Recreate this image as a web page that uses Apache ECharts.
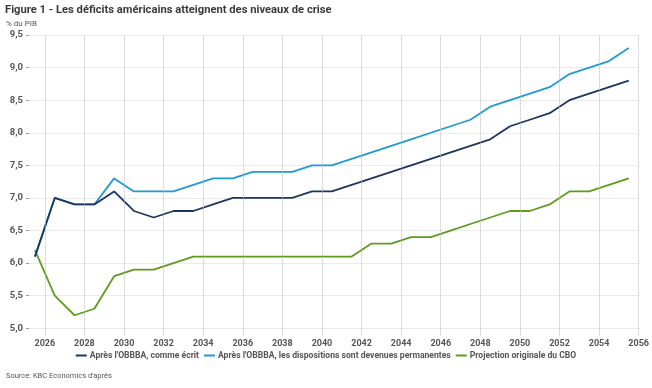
<!DOCTYPE html>
<html><head><meta charset="utf-8">
<script src="https://cdn.jsdelivr.net/npm/echarts@6/dist/echarts.min.js"></script>
<style>html,body{margin:0;padding:0;background:#fff}#c{width:652px;height:388px}</style>
</head><body><div id="c"></div>
<script>
const years = [2025.5,2026.5,2027.5,2028.5,2029.5,2030.5,2031.5,2032.5,2033.5,2034.5,2035.5,2036.5,2037.5,2038.5,2039.5,2040.5,2041.5,2042.5,2043.5,2044.5,2045.5,2046.5,2047.5,2048.5,2049.5,2050.5,2051.5,2052.5,2053.5,2054.5,2055.5];
const asWritten = [6.1,7.0,6.9,6.9,7.1,6.8,6.7,6.8,6.8,6.9,7.0,7.0,7.0,7.0,7.1,7.1,7.2,7.3,7.4,7.5,7.6,7.7,7.8,7.9,8.1,8.2,8.3,8.5,8.6,8.7,8.8];
const permanent = [6.1,7.0,6.9,6.9,7.3,7.1,7.1,7.1,7.2,7.3,7.3,7.4,7.4,7.4,7.5,7.5,7.6,7.7,7.8,7.9,8.0,8.1,8.2,8.4,8.5,8.6,8.7,8.9,9.0,9.1,9.3];
const cbo = [6.2,5.5,5.2,5.3,5.8,5.9,5.9,6.0,6.1,6.1,6.1,6.1,6.1,6.1,6.1,6.1,6.1,6.3,6.3,6.4,6.4,6.5,6.6,6.7,6.8,6.8,6.9,7.1,7.1,7.2,7.3];
const xTicks = [2026,2028,2030,2032,2034,2036,2038,2040,2042,2044,2046,2048,2050,2052,2054,2056];
const seriesNames = ["Après l'OBBBA, comme écrit","Après l'OBBBA, les dispositions sont devenues permanentes","Projection originale du CBO"];
const colors = ['#1c3660','#2199d3','#5e9c1e'];

const font = "Roboto,'Open Sans',sans-serif";
const chart = echarts.init(document.getElementById('c'), null, {renderer:'canvas'});
const pair = arr => years.map((y,i)=>[y,arr[i]]);
chart.setOption({
  animation:false,
  textStyle:{fontFamily:font},
  title:[
    {text:'Figure 1 - Les déficits américains atteignent des niveaux de crise',left:5,top:5,padding:0,
     textStyle:{fontFamily:font,fontSize:11.2,fontWeight:'bold',color:'#3a3a3a'}},
    {text:'% du PIB',left:6,top:20,padding:0,textStyle:{fontFamily:font,fontSize:8,fontWeight:'normal',color:'#555'}},
    {text:"Source: KBC Economics d'après",left:6,top:372,padding:0,textStyle:{fontFamily:font,fontSize:7.5,fontWeight:'normal',color:'#555'}}
  ],
  legend:{top:346,left:'center',itemWidth:11,itemHeight:2,itemGap:5,icon:'rect',
    textStyle:{fontFamily:font,fontSize:8.6,fontWeight:'bold',color:'#555',padding:[0,0,0,-2]},
    data:seriesNames},
  grid:{left:29,right:10.3,top:35,bottom:59.7,containLabel:false},
  xAxis:{type:'value',min:2025.2,max:2056,
    axisLine:{show:false},
    axisTick:{show:true,customValues:xTicks,length:7,lineStyle:{color:'#bbb',type:'dotted'}},
    axisLabel:{customValues:xTicks,margin:11,fontFamily:font,fontSize:9,fontWeight:'bold',color:'#555',formatter:v=>String(v)},
    splitLine:{show:false}},
  yAxis:{type:'value',min:5,max:9.5,interval:0.5,
    axisLine:{show:false},
    axisTick:{show:true,length:3,lineStyle:{color:'#999'}},
    axisLabel:{margin:6,fontFamily:font,fontSize:9.5,fontWeight:'bold',color:'#555',formatter:v=>v.toFixed(1).replace('.',',')},
    splitLine:{show:true,lineStyle:{color:'#ebebeb',width:1}}},
  series:[
    {name:'grid',type:'line',data:[],silent:true,
     markLine:{silent:true,symbol:'none',label:{show:false},
       lineStyle:{color:'#bbb',type:'dotted',width:1},
       data:xTicks.map(x=>({xAxis:x}))}},
    {name:seriesNames[0],type:'line',data:pair(asWritten),showSymbol:false,lineStyle:{width:1.8,color:colors[0]},itemStyle:{color:colors[0]},z:4},
    {name:seriesNames[1],type:'line',data:pair(permanent),showSymbol:false,lineStyle:{width:1.8,color:colors[1]},itemStyle:{color:colors[1]},z:3},
    {name:seriesNames[2],type:'line',data:pair(cbo),showSymbol:false,lineStyle:{width:1.8,color:colors[2]},itemStyle:{color:colors[2]},z:3}
  ]
});
</script></body></html>
